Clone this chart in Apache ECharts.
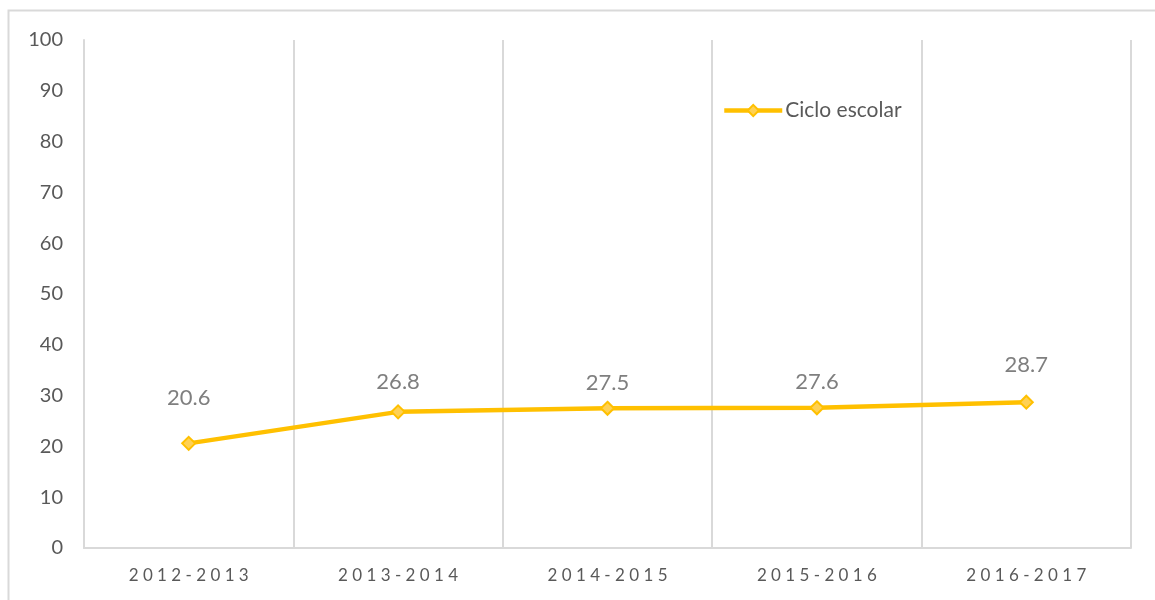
<!DOCTYPE html>
<html>
<head>
<meta charset="utf-8">
<script src="https://cdn.jsdelivr.net/npm/echarts@6/dist/echarts.min.js"></script>
<style>
  html, body { margin: 0; padding: 0; background: #fff; }
  #chart { width: 1155px; height: 600px; }
</style>
</head>
<body>
<div id="chart"></div>
<script>
// ciclos escolares
var cycles = ['2012-2013', '2013-2014', '2014-2015', '2015-2016', '2016-2017']
var values = [20.6, 26.8, 27.5, 27.6, 28.7]
var yTicks = [0, 10, 20, 30, 40, 50, 60, 70, 80, 90, 100]
var seriesName = 'Ciclo escolar'
// how far each label sits above its point (px)
var labelLift = [27, 11, 7, 7, 19]

var gray = '#d9d9d9'
var gold = '#FFC000'
var font = 'Lato, "Open Sans", sans-serif'

var chart = echarts.init(document.getElementById('chart'))

var points = values.map(function (v, i) {
    return { value: v, label: { distance: labelLift[i] } }
})

var option = {
    animation: false,
    textStyle: { fontFamily: font },
    graphic: [{
        type: 'rect',
        shape: { x: 8.5, y: 10.5, width: 1200, height: 700 },
        style: { fill: 'none', stroke: gray, lineWidth: 2 },
        silent: true
    }],
    grid: { left: 84, right: 24, top: 40, bottom: 52 },
    legend: {
        data: [seriesName],
        left: 722,
        top: 100,
        padding: 0,
        itemWidth: 58,
        itemHeight: 14,
        itemGap: 0,
        lineStyle: { width: 4.5, color: gold },
        textStyle: { color: '#595959', fontSize: 21, fontFamily: font, padding: [0, 0, 0, -2] }
    },
    xAxis: {
        type: 'category',
        data: cycles,
        boundaryGap: true,
        axisLine: { lineStyle: { color: gray, width: 2 } },
        axisTick: { show: false },
        splitLine: { show: true, lineStyle: { color: gray, width: 2 } },
        axisLabel: {
            color: '#595959',
            fontSize: 17,
            margin: 19,
            formatter: function (s) { return s.split('').join(' ') }
        }
    },
    yAxis: {
        type: 'value',
        min: yTicks[0],
        max: yTicks[yTicks.length - 1],
        interval: yTicks[1] - yTicks[0],
        axisLine: { show: true, lineStyle: { color: gray, width: 2 } },
        axisTick: { show: false },
        splitLine: { show: false },
        axisLabel: { color: '#595959', fontSize: 20, margin: 21 }
    },
    series: [{
        name: seriesName,
        type: 'line',
        data: points,
        symbol: 'diamond',
        symbolSize: 13,
        lineStyle: { color: gold, width: 4.5 },
        itemStyle: { color: '#FFD154', borderColor: gold, borderWidth: 2 },
        label: {
            show: true,
            position: 'top',
            color: '#7f7f7f',
            fontSize: 22
        }
    }]
}

chart.setOption(option)
</script>
</body>
</html>
